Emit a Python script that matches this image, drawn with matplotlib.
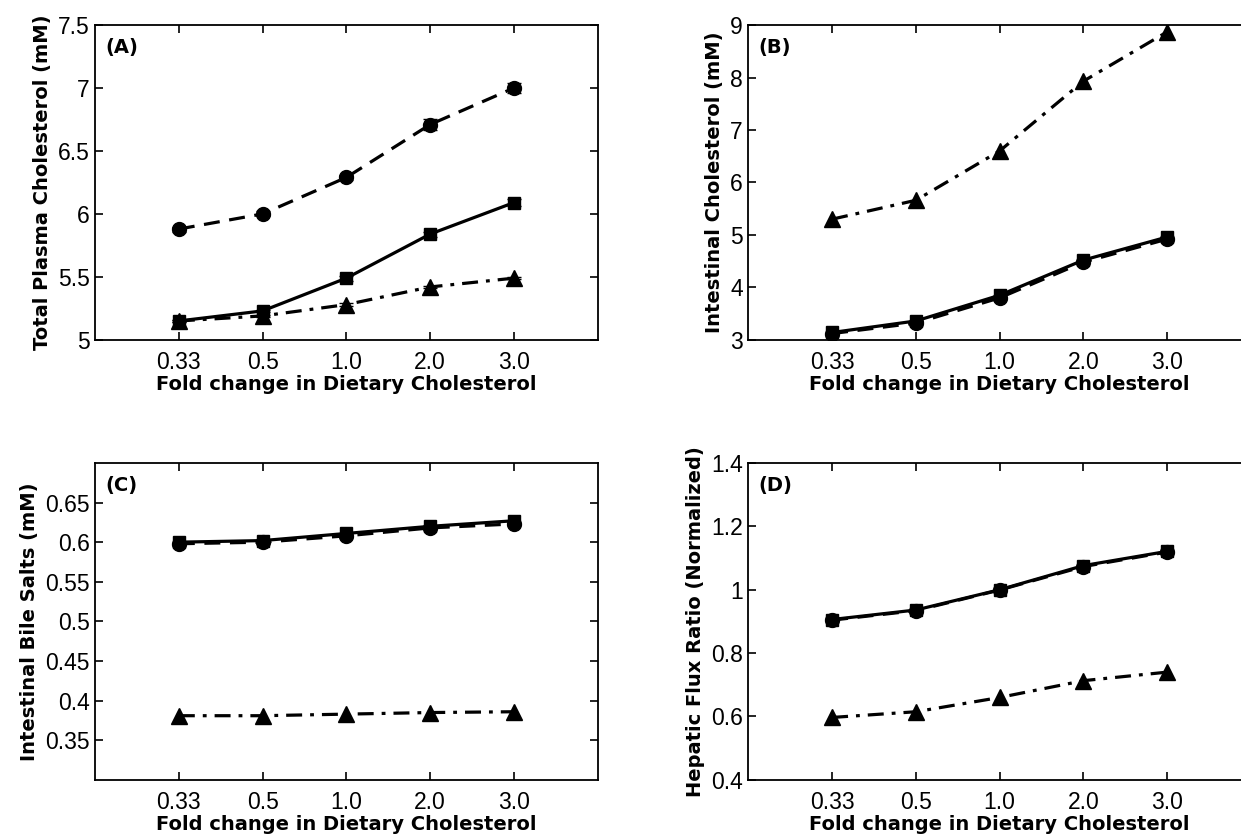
import numpy as np
import matplotlib
matplotlib.use('Agg')
import matplotlib.pyplot as plt
import matplotlib as mpl
from matplotlib.ticker import FixedLocator

mpl.rcParams['font.family'] = ['Liberation Sans', 'DejaVu Sans']

# x categories (fold change in dietary cholesterol)
x_labels = ['0.33', '0.5', '1.0', '2.0', '3.0']
x_pos = [1, 2, 3, 4, 5]

# (A) total plasma cholesterol (mM)
a_square = [5.15, 5.23, 5.49, 5.84, 6.09]
a_square_err = [0.01, 0.01, 0.02, 0.02, 0.03]
a_circle = [5.88, 6.00, 6.29, 6.71, 7.00]
a_circle_err = [0.02, 0.02, 0.02, 0.04, 0.04]
a_triangle = [5.15, 5.19, 5.28, 5.42, 5.49]
a_triangle_err = [0.01, 0.01, 0.01, 0.01, 0.01]

# (B) intestinal cholesterol (mM)
b_square = [3.14, 3.36, 3.85, 4.52, 4.96]
b_circle = [3.12, 3.32, 3.80, 4.48, 4.92]
b_triangle = [5.30, 5.66, 6.60, 7.93, 8.87]

# (C) intestinal bile salts (mM)
c_square = [0.600, 0.602, 0.611, 0.620, 0.627]
c_circle = [0.598, 0.600, 0.608, 0.618, 0.623]
c_triangle = [0.381, 0.381, 0.383, 0.385, 0.386]

# (D) hepatic flux ratio (normalized)
d_square = [0.906, 0.936, 1.000, 1.076, 1.121]
d_circle = [0.904, 0.934, 0.999, 1.073, 1.119]
d_triangle = [0.597, 0.615, 0.660, 0.713, 0.740]

fig = plt.figure(figsize=(12.41, 8.35), dpi=100)

panels = [
    dict(pos=[0.0766, 0.593, 0.405, 0.377], tag='(A)', ylabel='Total Plasma Cholesterol (mM)',
         ylim=(5, 7.5), yticks=[5, 5.5, 6, 6.5, 7, 7.5], ytl=['5', '5.5', '6', '6.5', '7', '7.5'],
         sq=a_square, ci=a_circle, tr=a_triangle,
         sq_e=a_square_err, ci_e=a_circle_err, tr_e=a_triangle_err),
    dict(pos=[0.603, 0.593, 0.405, 0.377], tag='(B)', ylabel='Intestinal Cholesterol (mM)',
         ylim=(3, 9), yticks=[3, 4, 5, 6, 7, 8, 9], ytl=['3', '4', '5', '6', '7', '8', '9'],
         sq=b_square, ci=b_circle, tr=b_triangle, sq_e=None, ci_e=None, tr_e=None),
    dict(pos=[0.0766, 0.066, 0.405, 0.3796], tag='(C)', ylabel='Intestinal Bile Salts (mM)',
         ylim=(0.3, 0.7), yticks=[0.35, 0.4, 0.45, 0.5, 0.55, 0.6, 0.65],
         ytl=['0.35', '0.4', '0.45', '0.5', '0.55', '0.6', '0.65'],
         sq=c_square, ci=c_circle, tr=c_triangle, sq_e=None, ci_e=None, tr_e=None),
    dict(pos=[0.603, 0.066, 0.405, 0.3796], tag='(D)', ylabel='Hepatic Flux Ratio (Normalized)',
         ylim=(0.4, 1.4), yticks=[0.4, 0.6, 0.8, 1.0, 1.2, 1.4],
         ytl=['0.4', '0.6', '0.8', '1', '1.2', '1.4'],
         sq=d_square, ci=d_circle, tr=d_triangle, sq_e=None, ci_e=None, tr_e=None),
]

lw = 2.3
for p in panels:
    ax = fig.add_axes(p['pos'])
    # dashed + circles
    ax.errorbar(x_pos, p['ci'], yerr=p['ci_e'], color='black', linestyle=(0, (5, 3)), linewidth=lw,
                marker='o', markersize=10, capsize=5, elinewidth=1.8, zorder=3)
    # solid + squares
    ax.errorbar(x_pos, p['sq'], yerr=p['sq_e'], color='black', linestyle='-', linewidth=lw,
                marker='s', markersize=9, capsize=5, elinewidth=1.8, zorder=4)
    # dash-dot + triangles
    ax.errorbar(x_pos, p['tr'], yerr=p['tr_e'], color='black', linestyle=(0, (5, 2.5, 1.2, 2.5)),
                linewidth=lw, marker='^', markersize=11, capsize=5, elinewidth=1.8, zorder=5)

    ax.set_xlim(0, 6)
    ax.set_ylim(*p['ylim'])
    ax.xaxis.set_major_locator(FixedLocator(x_pos))
    ax.set_xticklabels(x_labels)
    ax.yaxis.set_major_locator(FixedLocator(p['yticks']))
    ax.set_yticklabels(p['ytl'])
    ax.tick_params(axis='both', which='both', direction='in', top=True, right=True,
                   length=6, width=1.2, labelsize=16.5, pad=4)
    ax.tick_params(axis='x', pad=8)
    for s in ax.spines.values():
        s.set_linewidth(1.3)
    ax.set_xlabel('Fold change in Dietary Cholesterol', fontsize=14, fontweight='bold',
                  family='DejaVu Sans', labelpad=1)
    ax.set_ylabel(p['ylabel'], fontsize=14, fontweight='bold', family='DejaVu Sans', labelpad=4)
    ax.text(0.02, 0.93, p['tag'], transform=ax.transAxes, fontsize=14, fontweight='bold',
            family='DejaVu Sans', va='center', ha='left')

plt.savefig('out.png', dpi=100, facecolor='w')
